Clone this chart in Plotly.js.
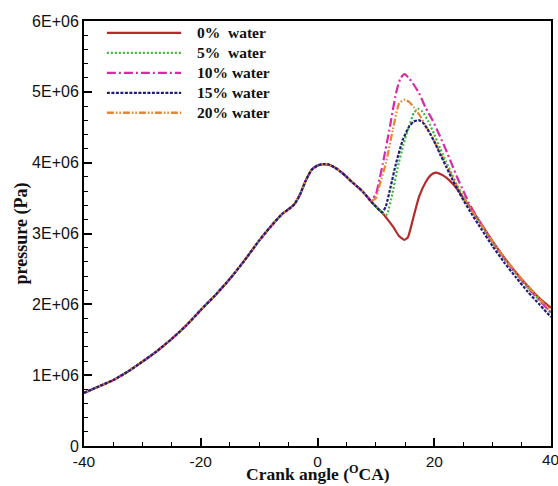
<!DOCTYPE html>
<html>
<head>
<meta charset="utf-8">
<script src="https://cdn.plot.ly/plotly-3.0.1.min.js"></script>
<style>html,body{margin:0;padding:0;background:#fff;}#chart{width:558px;height:486px;}</style>
</head>
<body>
<div id="chart"></div>
<script>
// Shared compression part (all cases coincide), crank angle in deg, pressure in Pa
const commonX = [-40,-37.5,-35,-32.5,-30,-27.5,-25,-22.5,-20,-17.5,-15,-12.5,-10,-8,-6,-5,-4,-3,-2,-1,0,1,2,3,4,5,6,7,8,9];
const commonY = [0.75e6,0.84e6,0.93e6,1.05e6,1.19e6,1.34e6,1.51e6,1.70e6,1.92e6,2.13e6,2.36e6,2.62e6,2.90e6,3.10e6,3.28e6,3.34e6,3.41e6,3.55e6,3.75e6,3.90e6,3.96e6,3.98e6,3.97e6,3.93e6,3.87e6,3.80e6,3.72e6,3.65e6,3.57e6,3.47e6];

const x0 = [10,11,12,13,14,14.9,15.5,16.5,17.4,18.5,19.5,20.3,21.5,22.6,24,25,26,28,30,32,34,36,38,40];
const y0 = [3.38e6,3.30e6,3.20e6,3.09e6,2.96e6,2.91e6,2.95e6,3.25e6,3.52e6,3.72e6,3.83e6,3.86e6,3.82e6,3.75e6,3.62e6,3.50e6,3.39e6,3.14e6,2.89e6,2.66e6,2.45e6,2.26e6,2.09e6,1.95e6];

const x5 = [10,11,11.7,12.0,12.8,13.7,14.7,15.7,16.5,17.2,18,19,20,21,22,23,24,25,26,28,30,32,34,36,38,40];
const y5 = [3.38e6,3.30e6,3.26e6,3.29e6,3.55e6,3.92e6,4.25e6,4.52e6,4.70e6,4.76e6,4.72e6,4.58e6,4.40e6,4.20e6,4.02e6,3.84e6,3.67e6,3.52e6,3.38e6,3.12e6,2.87e6,2.64e6,2.43e6,2.24e6,2.06e6,1.88e6];

const x10 = [9.5,10,10.5,11.2,12.3,13.45,14.2,14.9,15.6,16.5,17.4,18.5,19.7,21,22,23,24,25,26,28,30,32,34,36,38,40];
const y10 = [3.50e6,3.55e6,3.72e6,3.99e6,4.46e6,4.98e6,5.19e6,5.25e6,5.20e6,5.10e6,4.98e6,4.78e6,4.60e6,4.37e6,4.18e6,3.98e6,3.78e6,3.60e6,3.42e6,3.14e6,2.88e6,2.65e6,2.44e6,2.24e6,2.06e6,1.88e6];

const x15 = [10,11,11.2,11.7,12.5,13.45,14.6,15.7,16.5,17.3,18,19,20,21,22,23,24,25,26,28,30,32,34,36,38,40];
const y15 = [3.38e6,3.30e6,3.31e6,3.38e6,3.65e6,3.99e6,4.32e6,4.51e6,4.58e6,4.60e6,4.57e6,4.45e6,4.30e6,4.12e6,3.95e6,3.78e6,3.62e6,3.47e6,3.33e6,3.07e6,2.82e6,2.59e6,2.38e6,2.18e6,2.00e6,1.82e6];

const x20 = [9.5,10,10.7,11.7,12.9,14.0,15.0,15.8,16.5,17.4,18.5,19.5,20.5,22,23,24,25,26,28,30,32,34,36,38,40];
const y20 = [3.47e6,3.50e6,3.70e6,3.99e6,4.46e6,4.84e6,4.89e6,4.85e6,4.78e6,4.68e6,4.53e6,4.38e6,4.22e6,3.98e6,3.81e6,3.65e6,3.50e6,3.38e6,3.13e6,2.88e6,2.66e6,2.45e6,2.26e6,2.08e6,1.91e6];

const seriesNames = ['0%  water','5%  water','10% water','15% water','20% water'];
const seriesX = [x0, x5, x10, x15, x20];
const seriesY = [y0, y5, y10, y15, y20];
const seriesColors = ['#b52a2a','#3cb83c','#d82aa8','#1e1e78','#e8842e'];
const seriesDash = ['solid','2px,2px','9px,3px,2px,3px','3px,1.5px','7px,2px,1.5px,2px,1.5px,2px'];

const yTickVals = [0,1e6,2e6,3e6,4e6,5e6,6e6];
const yTickText = ['0','1E+06','2E+06','3E+06','4E+06','5E+06','6E+06'];
const xTickVals = [-40,-20,0,20,40];
const xTitle = 'Crank angle (<sup>O</sup>CA)';
const yTitle = 'pressure (Pa)';

function joinCommon(xs, ys){
  const cx=[], cy=[];
  for(let i=0;i<commonX.length;i++){ if(commonX[i]<xs[0]){cx.push(commonX[i]);cy.push(commonY[i]);} }
  return [cx.concat(xs), cy.concat(ys)];
}

const traces = [];
// draw order: red at bottom, orange and navy on top (as in the reference)
[0,1,2,4,3].forEach(i=>{
  const [xx,yy]=joinCommon(seriesX[i],seriesY[i]);
  traces.push({x:xx,y:yy,type:'scatter',mode:'lines',name:seriesNames[i],
    line:{color:seriesColors[i],width:2.2,dash:seriesDash[i],shape:'spline',smoothing:0.5},
    hoverinfo:'skip',showlegend:false});
});

// custom legend (long line samples like the reference)
const shapes=[], annotations=[];
const legY=[0.972,0.925,0.878,0.831,0.784];
for(let i=0;i<seriesNames.length;i++){
  shapes.push({type:'line',xref:'paper',yref:'paper',x0:0.049,x1:0.208,y0:legY[i],y1:legY[i],
    line:{color:seriesColors[i],width:2.4,dash:seriesDash[i]}});
  annotations.push({xref:'paper',yref:'paper',x:0.238,y:legY[i],xanchor:'left',yanchor:'middle',
    text:'<b>'+seriesNames[i].replace(/  /g,'&nbsp; ')+'</b>',showarrow:false,
    font:{family:'Liberation Serif, Times New Roman, serif',size:15.5,color:'#111'}});
}
// last x tick label, clipped by the right edge as in the reference
annotations.push({xref:'paper',yref:'paper',x:1,y:0,yshift:-13,xanchor:'center',yanchor:'middle',
  text:String(xTickVals[xTickVals.length-1]),showarrow:false,
  font:{family:'Liberation Sans, Arial, sans-serif',size:15.5,color:'#111'}});
// x axis title
annotations.push({xref:'paper',yref:'paper',x:0.5,y:0,yshift:-27,xanchor:'center',yanchor:'middle',
  text:'<b>'+xTitle+'</b>',showarrow:false,
  font:{family:'Liberation Serif, Times New Roman, serif',size:17.5,color:'#111'}});

const layout = {
  width:558,height:486,
  margin:{l:84,r:7,t:21,b:40},
  paper_bgcolor:'#fff',plot_bgcolor:'#fff',
  showlegend:false,
  xaxis:{range:[-40,40],tickmode:'array',tickvals:xTickVals.slice(0,-1),ticktext:xTickVals.slice(0,-1).map(String),
    ticks:'inside',ticklen:8,tickwidth:2,tickcolor:'#000',
    minor:{dtick:5,ticks:'inside',ticklen:4,tickwidth:1,tickcolor:'#000',showgrid:false},
    showline:true,linecolor:'#000',linewidth:2,mirror:true,showgrid:false,zeroline:false,
    tickfont:{family:'Liberation Sans, Arial, sans-serif',size:15.5,color:'#111'}},
  yaxis:{range:[0,6e6],tickmode:'array',tickvals:yTickVals,ticktext:yTickText,
    ticks:'inside',ticklen:8,tickwidth:2,tickcolor:'#000',
    minor:{dtick:2e5,ticks:'inside',ticklen:4,tickwidth:1,tickcolor:'#000',showgrid:false},
    showline:true,linecolor:'#000',linewidth:2,mirror:true,showgrid:false,zeroline:false,
    tickfont:{family:'Liberation Sans, Arial, sans-serif',size:16,color:'#111'},
    title:{text:'<b>'+yTitle+'</b>',standoff:0,
      font:{family:'Liberation Serif, Times New Roman, serif',size:18,color:'#111'}}},
  shapes:shapes,annotations:annotations
};

Plotly.newPlot('chart',traces,layout,{staticPlot:true,displayModeBar:false});
</script>
</body>
</html>
